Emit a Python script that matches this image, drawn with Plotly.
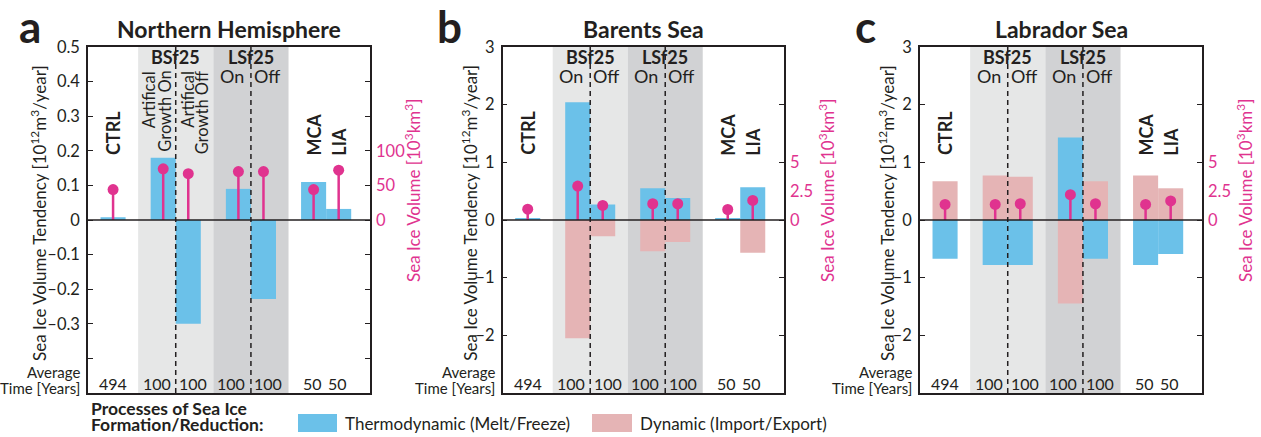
import plotly.graph_objects as go

# ---------------- data ----------------
categories = ["CTRL", "BSf25 On", "BSf25 Off", "LSf25 On", "LSf25 Off", "MCA", "LIA"]
avg_years = ["494", "100", "100", "100", "100", "50", "50"]

nh_thermo = [0.008, 0.18, -0.30, 0.09, -0.228, 0.11, 0.032]
nh_volume = [44, 74, 67, 70, 70, 44, 72]

bs_thermo = [0.03, 2.04, 0.27, 0.55, 0.38, 0.02, 0.57]
bs_dynamic = [0.01, -2.05, -0.28, -0.54, -0.38, 0.02, -0.57]
bs_volume = [0.94, 2.94, 1.26, 1.41, 1.41, 0.91, 1.7]

lab_thermo = [-0.67, -0.78, -0.78, 1.43, -0.67, -0.78, -0.59]
lab_dynamic = [0.67, 0.77, 0.75, -1.45, 0.67, 0.77, 0.55]
lab_volume = [1.35, 1.35, 1.41, 2.2, 1.41, 1.35, 1.65]

nh_ticks = [0.5, 0.4, 0.3, 0.2, 0.1, 0, -0.1, -0.2, -0.3, -0.4]
nh_ticktext = ["0.5", "0.4", "0.3", "0.2", "0.1", "0", "–0.1", "–0.2", "–0.3", ""]
reg_ticks = [3, 2, 1, 0, -1, -2]
reg_ticktext = ["3", "2", "1", "0", "–1", "–2"]
nh_vol_ticks = [0, 50, 100]
reg_vol_ticks = [0, 2.5, 5]

# ---------------- layout constants ----------------
W, H = 1261, 437
FONT = "Lato"
TXT = "#231F20"
BLUE = "#6BC1E9"
PINK = "#E5B4B5"
MAG = "#E0338F"
LGRAY = "#E6E7E7"
DGRAY = "#D1D2D4"

bar_x = [1, 3, 4, 6, 7, 9, 10]
year_x = [1, 2.75, 4.2, 5.7, 7.2, 8.95, 9.95]


def px(v):
    return v / W


def py(v):
    return 1 - v / H


panels = [
    dict(left=88, right=370, title="Northern Hemisphere", letter="a", lpos=17, ax="", rax="4",
         thermo=nh_thermo, dyn=None, vol=nh_volume, yr=[-0.5, 0.5], vr=[-250, 250],
         tv=nh_ticks, tt=nh_ticktext, vt=nh_vol_ticks, artificial=True),
    dict(left=502.7, right=784, title="Barents Sea", letter="b", lpos=435, ax="2", rax="5",
         thermo=bs_thermo, dyn=bs_dynamic, vol=bs_volume, yr=[-3, 3], vr=[-15, 15],
         tv=reg_ticks, tt=reg_ticktext, vt=reg_vol_ticks, artificial=False),
    dict(left=920, right=1202, title="Labrador Sea", letter="c", lpos=853, ax="3", rax="6",
         thermo=lab_thermo, dyn=lab_dynamic, vol=lab_volume, yr=[-3, 3], vr=[-15, 15],
         tv=reg_ticks, tt=reg_ticktext, vt=reg_vol_ticks, artificial=False),
]

TOP, BOT = 47, 393
ydom = [py(BOT), py(TOP)]

fig = go.Figure()
shapes = []
ann = []
layout = {}


def A(text, x, y, xref="paper", size=16, bold=False, color=TXT, xanchor="center",
      yanchor="middle", angle=0, align="center"):
    if bold:
        text = "<b>" + text + "</b>"
    ann.append(dict(text=text, x=x, y=y, xref=xref, yref="paper", showarrow=False,
                    font=dict(family=FONT, size=size, color=color), xanchor=xanchor,
                    yanchor=yanchor, textangle=angle, align=align))


for p in panels:
    xa = "x" + p["ax"]
    ya = "y" + p["ax"]
    ra = "y" + p["rax"]
    xkey = "xaxis" + p["ax"]
    ykey = "yaxis" + p["ax"]
    rkey = "yaxis" + p["rax"]
    layout[xkey] = dict(domain=[px(p["left"]), px(p["right"])], anchor=ya, range=[0, 11.25],
                        showline=True, mirror=True, linecolor=TXT, linewidth=1.5,
                        showticklabels=False, ticks="", showgrid=False, zeroline=False,
                        automargin=False, fixedrange=True)
    layout[ykey] = dict(domain=ydom, anchor=xa, range=p["yr"], tickvals=p["tv"], ticktext=p["tt"],
                        ticks="inside", ticklen=5, tickwidth=1.2, tickcolor=TXT,
                        showline=True, mirror="ticks", linecolor=TXT, linewidth=1.5,
                        showgrid=False, zeroline=False, automargin=False, fixedrange=True,
                        ticklabelstandoff=3,
                        tickfont=dict(family=FONT, size=16.5, color=TXT))
    layout[rkey] = dict(overlaying=ya, anchor=xa, side="right", range=p["vr"],
                        tickvals=p["vt"], ticks="", showline=False, showgrid=False,
                        zeroline=False, automargin=False, fixedrange=True,
                        tickfont=dict(family=FONT, size=16.5, color=MAG),
                        ticklabelstandoff=5)

    # shading
    shapes.append(dict(type="rect", xref=xa, yref=ya + " domain", x0=2, x1=5, y0=0, y1=1,
                       fillcolor=LGRAY, line=dict(width=0), layer="below"))
    shapes.append(dict(type="rect", xref=xa, yref=ya + " domain", x0=5, x1=8, y0=0, y1=1,
                       fillcolor=DGRAY, line=dict(width=0), layer="below"))

    # bars
    if p["dyn"] is not None:
        fig.add_trace(go.Bar(x=bar_x, y=p["dyn"], width=1, marker=dict(color=PINK, line=dict(width=0)),
                             xaxis=xa, yaxis=ya, showlegend=False))
    fig.add_trace(go.Bar(x=bar_x, y=p["thermo"], width=1, marker=dict(color=BLUE, line=dict(width=0)),
                         xaxis=xa, yaxis=ya, showlegend=False))
    # lollipops
    fig.add_trace(go.Scatter(x=bar_x, y=p["vol"], mode="markers", xaxis=xa, yaxis=ra,
                             marker=dict(color=MAG, size=11),
                             error_y=dict(type="data", symmetric=False, array=[0] * 7,
                                          arrayminus=p["vol"], width=0, thickness=2.5, color=MAG),
                             showlegend=False))

    # zero line and dashed separators
    shapes.append(dict(type="line", xref=xa + " domain", yref=ya, x0=0, x1=1, y0=0, y1=0,
                       line=dict(color=TXT, width=1.5), layer="above"))
    for d in (3.5, 6.5):
        shapes.append(dict(type="line", xref=xa, yref=ya + " domain", x0=d, x1=d, y0=0, y1=1,
                           line=dict(color=TXT, width=1.5, dash="5px,4px"), layer="above"))

    # titles
    cx = (p["left"] + p["right"]) / 2
    A(p["title"], px(cx), py(29), size=23, bold=True)
    A(p["letter"], px(p["lpos"]), py(26), size=44, bold=True, xanchor="left")

    # axis titles
    lx = 38 if p["letter"] == "a" else p["left"] - 34
    A("Sea Ice Volume Tendency [10<sup>12</sup>m<sup>3</sup>/year]", px(lx), py(213), size=17, angle=-90)
    A("Sea Ice Volume [10<sup>3</sup>km<sup>3</sup>]", px(p["right"] + 42), py(191), size=17,
      angle=-90, color=MAG)

    # category labels
    A("CTRL", bar_x[0], py(157), xref=xa, size=18, bold=True, angle=-90, yanchor="bottom")
    A("MCA", bar_x[5], py(158), xref=xa, size=18, bold=True, angle=-90, yanchor="bottom")
    A("LIA", bar_x[6], py(158), xref=xa, size=18, bold=True, angle=-90, yanchor="bottom")
    A("BSf25", 3.5, py(57), xref=xa, size=18, bold=True)
    A("LSf25", 6.5, py(57), xref=xa, size=18, bold=True)
    if p["artificial"]:
        A("Artifical", 2.42, py(69), xref=xa, size=16.5, angle=-90, yanchor="top")
        A("Growth On", 3.04, py(69), xref=xa, size=16.5, angle=-90, yanchor="top")
        A("Artifical", 3.96, py(69), xref=xa, size=16.5, angle=-90, yanchor="top")
        A("Growth Off", 4.54, py(69), xref=xa, size=16.5, angle=-90, yanchor="top")
    else:
        A("On", 2.75, py(76), xref=xa, size=18)
        A("Off", 4.15, py(76), xref=xa, size=18)
    A("On", 5.75, py(76), xref=xa, size=18)
    A("Off", 7.15, py(76), xref=xa, size=18)

    # average time row
    A("Average", px(p["left"] - 6), py(371.5), size=15, xanchor="right")
    A("Time [Years]", px(p["left"] - 6), py(387.5), size=15, xanchor="right")
    for xv, t in zip(year_x, avg_years):
        A(t, xv, py(383), xref=xa, size=16)

# legend
A("Processes of Sea Ice", px(89), py(408), size=17.5, bold=True, xanchor="left")
A("Formation/Reduction:", px(89), py(424), size=17.5, bold=True, xanchor="left")
shapes.append(dict(type="rect", xref="paper", yref="paper", x0=px(298), x1=px(337),
                   y0=py(432), y1=py(414), fillcolor=BLUE, line=dict(width=0)))
A("Thermodynamic (Melt/Freeze)", px(343), py(423), size=17, xanchor="left")
shapes.append(dict(type="rect", xref="paper", yref="paper", x0=px(592), x1=px(632),
                   y0=py(432), y1=py(414), fillcolor=PINK, line=dict(width=0)))
A("Dynamic (Import/Export)", px(638), py(423), size=17, xanchor="left")

fig.update_layout(template="none", width=W, height=H, margin=dict(l=0, r=0, t=0, b=0, pad=0),
                  paper_bgcolor="white", plot_bgcolor="white", barmode="overlay",
                  showlegend=False, shapes=shapes, annotations=ann,
                  font=dict(family=FONT, color=TXT), **layout)

fig.write_html("out.html", config={"displayModeBar": False})
